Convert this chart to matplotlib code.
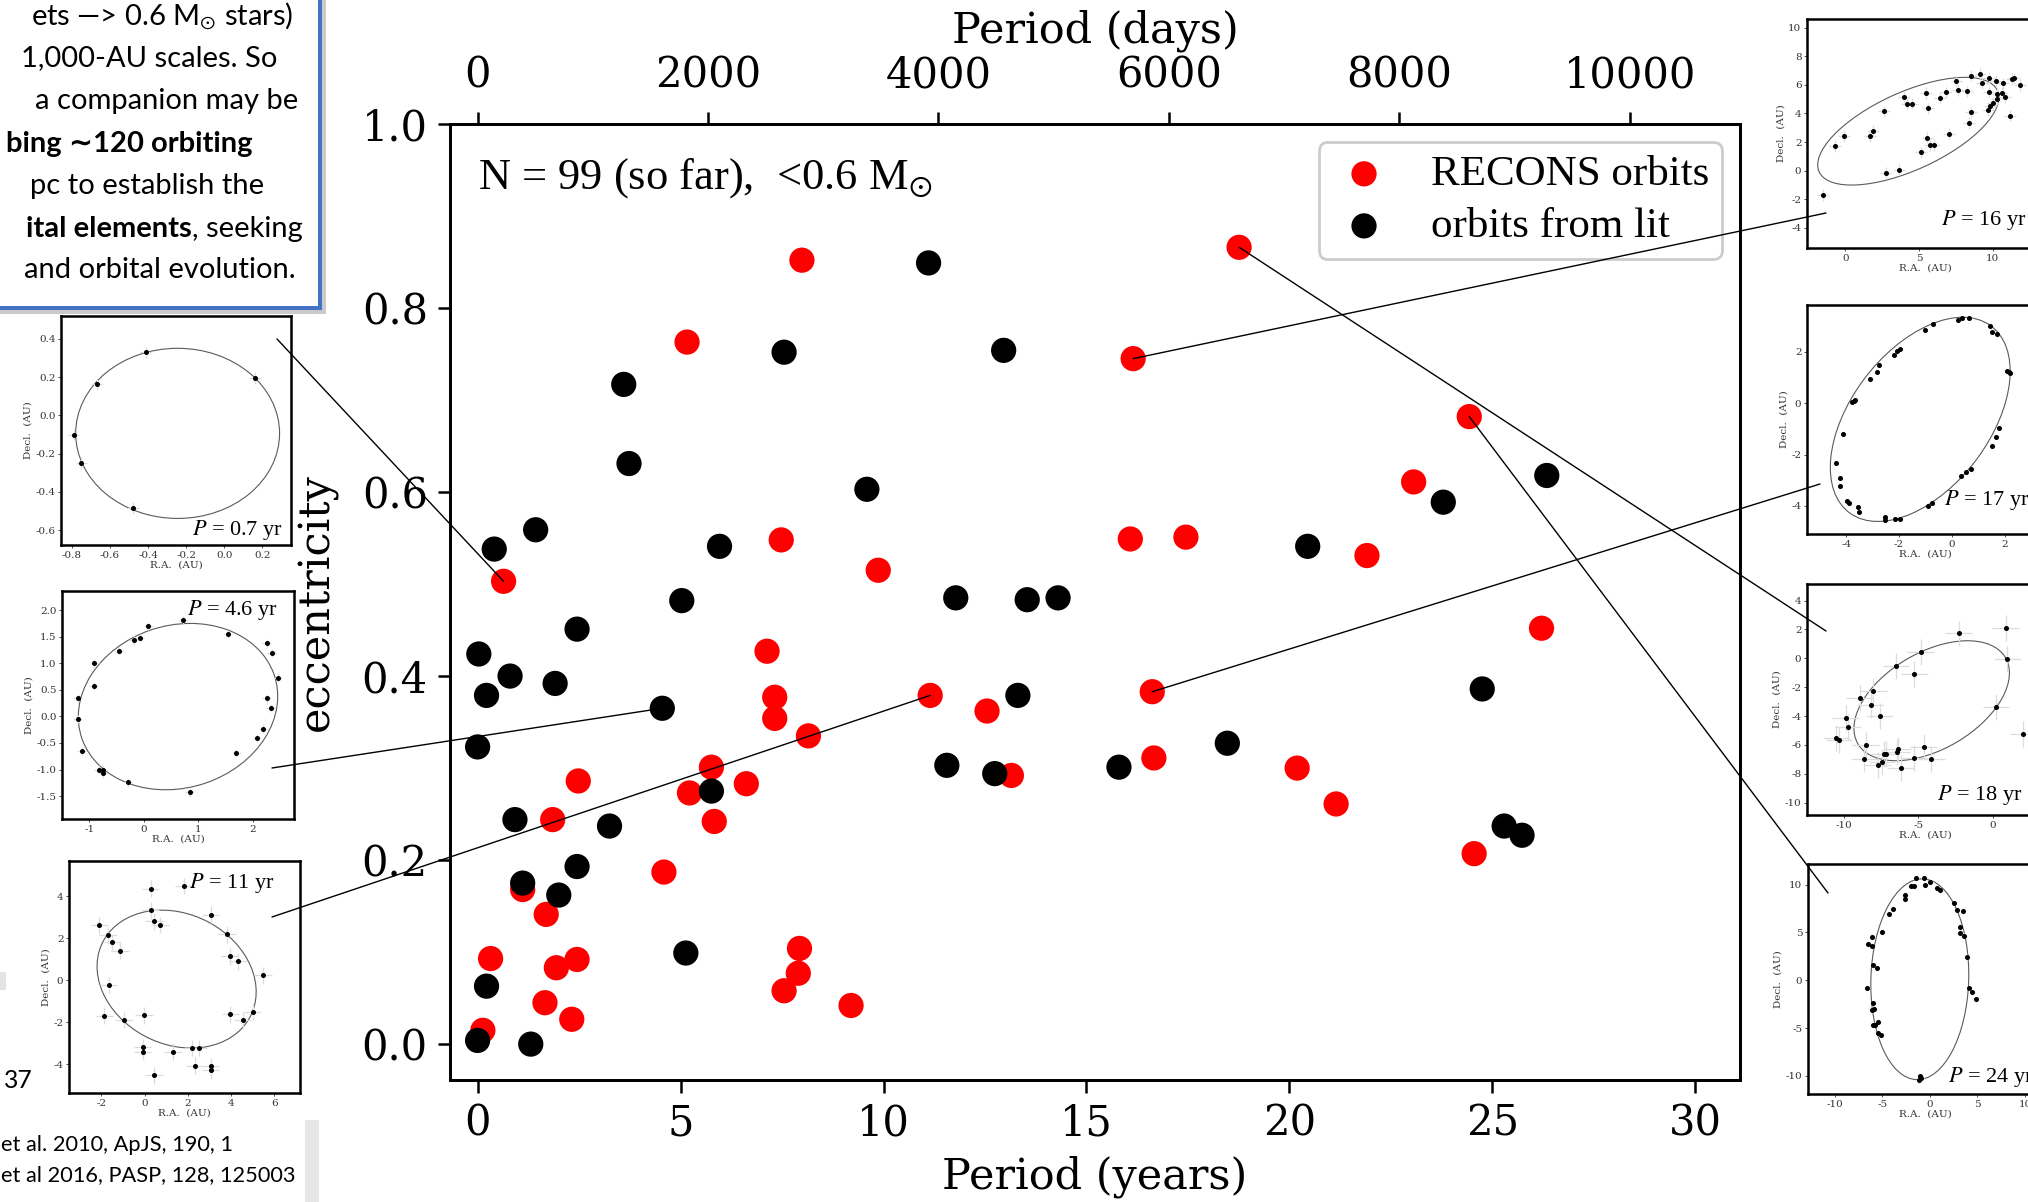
import matplotlib
matplotlib.use("Agg")
import matplotlib.pyplot as plt
from matplotlib.patches import Ellipse, Rectangle, ConnectionPatch
from matplotlib.ticker import FormatStrFormatter

plt.rcParams['font.family'] = ['DejaVu Serif']
plt.rcParams['mathtext.fontset'] = 'stix'

W, H, DPI = 2028, 1202, 100

# ---------------- main chart data ----------------
recons_period = [0.64, 7.99, 5.16, 18.76, 16.15, 24.43, 7.48, 9.87, 16.08, 17.45,
                 23.06, 21.91, 26.21, 7.13, 7.32, 7.32, 11.15, 12.55, 8.15, 16.62,
                 5.76, 5.22, 6.62, 5.83, 13.15, 16.66, 20.19, 21.15, 2.48, 1.85,
                 1.11, 1.69, 4.59, 24.55, 0.32, 1.94, 2.45, 7.93, 7.90, 7.55,
                 9.20, 1.66, 2.32, 0.13]
recons_ecc = [0.503, 0.852, 0.763, 0.866, 0.745, 0.682, 0.548, 0.515, 0.549, 0.551,
              0.611, 0.531, 0.452, 0.427, 0.377, 0.354, 0.379, 0.362, 0.335, 0.383,
              0.301, 0.273, 0.283, 0.242, 0.292, 0.311, 0.300, 0.261, 0.286, 0.244,
              0.168, 0.141, 0.187, 0.207, 0.093, 0.083, 0.092, 0.104, 0.077, 0.058,
              0.042, 0.045, 0.027, 0.015]
lit_period = [11.11, 12.96, 7.55, 3.60, 3.73, 9.59, 26.34, 23.79, 0.41, 1.43,
              5.96, 20.45, 5.03, 11.78, 13.54, 14.30, 2.45, 0.03, 0.80, 1.91,
              0.22, 4.55, 13.31, 24.75, 0.00, 11.56, 12.74, 15.80, 18.47, 5.76,
              0.92, 3.25, 25.29, 25.73, 1.11, 2.45, 2.00, 5.13, 0.22, 0.00, 1.31]
lit_ecc = [0.849, 0.754, 0.752, 0.717, 0.631, 0.603, 0.618, 0.589, 0.538, 0.559,
           0.541, 0.541, 0.482, 0.485, 0.483, 0.485, 0.451, 0.424, 0.400, 0.392,
           0.379, 0.365, 0.379, 0.386, 0.323, 0.303, 0.294, 0.301, 0.327, 0.275,
           0.244, 0.237, 0.237, 0.227, 0.175, 0.193, 0.162, 0.099, 0.063, 0.004, 0.000]

year_ticks = [0, 5, 10, 15, 20, 25, 30]
day_ticks = [0, 2000, 4000, 6000, 8000, 10000]
ecc_ticks = [0.0, 0.2, 0.4, 0.6, 0.8, 1.0]

# ---------------- inset orbit data ----------------
A_ra = [-0.41, -0.67, -0.79, -0.75, -0.48, 0.16]
A_dec = [0.33, 0.165, -0.10, -0.25, -0.485, 0.195]
B_ra = [-1.21, -1.21, -1.14, -0.91, -0.92, -0.83, -0.75, -0.75, -0.45, -0.19, -0.08, 0.08,
        0.72, -0.29, 0.84, 1.54, 1.69, 2.07, 2.19, 2.25, 2.32, 2.25, 2.34, 2.45]
B_dec = [0.34, -0.05, -0.65, 1.00, 0.57, -1.00, -1.00, -1.07, 1.23, 1.43, 1.48, 1.70,
         1.81, -1.24, -1.43, 1.55, -0.69, -0.41, -0.23, 0.34, 0.16, 1.38, 1.19, 0.73]
C_ra = [-2.10, -1.69, -1.49, -1.14, -1.66, -1.86, -0.95, -0.03, -0.08, -0.08, 0.44, 1.32,
        2.21, 2.50, 2.32, 3.06, 3.06, 0.28, 0.28, 0.44, 0.72, 1.81, 3.07, 3.82, 3.94,
        4.33, 5.49, 3.97, 4.55, 5.00]
C_dec = [2.60, 2.14, 1.81, 1.38, -0.24, -1.70, -1.90, -1.68, -3.20, -3.43, -4.54, -3.41,
         -3.24, -3.24, -4.08, -4.10, -4.30, 4.35, 3.33, 2.79, 2.62, 4.48, 3.11, 2.17, 1.14,
         0.89, 0.22, -1.63, -1.92, -1.51]
D_ra = [-1.54, -0.71, -0.09, 1.66, 1.86, 2.59, 2.72, 3.63, 3.99, 4.17, 4.49, 5.47, 5.58,
        5.56, 5.72, 5.99, 5.10, 6.38, 6.85, 7.03, 7.53, 7.65, 8.23, 8.53, 9.16, 9.25, 8.39,
        8.53, 9.71, 9.73, 10.23, 10.02, 9.80, 9.69, 10.25, 10.25, 10.59, 10.70, 10.81,
        11.15, 11.27, 11.43, 11.84]
D_dec = [-1.69, 1.72, 2.44, 2.41, 2.78, 4.15, -0.13, 0.07, 5.14, 4.69, 4.69, 5.42, 4.35,
         2.31, 1.79, 1.81, 1.29, 5.10, 5.47, 2.59, 6.27, 5.65, 5.55, 6.64, 6.76, 6.14, 3.33,
         4.08, 6.49, 5.52, 6.27, 4.74, 4.49, 4.24, 4.99, 5.37, 5.45, 6.11, 5.12, 3.84, 6.42,
         6.45, 6.00]
E_ra = [-4.38, -4.22, -4.22, -3.98, -3.88, -3.50, -3.54, -2.55, -2.52, -2.17, -1.95, -0.90,
        -0.75, 0.34, 0.53, 0.71, 1.53, 1.66, 1.79, 2.08, 2.16, 2.21, 1.70, 1.53, 1.45, 0.66,
        0.37, 0.24, -0.71, -1.02, -1.95, -2.08, -2.20, -2.74, -2.84, -3.08, -3.79, -3.71,
        -3.65, -4.13]
E_dec = [-2.34, -2.92, -3.22, -3.82, -3.89, -4.24, -4.03, -4.45, -4.55, -4.52, -4.52, -4.00,
         -3.90, -2.82, -2.68, -2.58, -1.65, -1.30, -0.96, 1.25, 1.20, 1.17, 2.68, 2.78, 3.03,
         3.32, 3.33, 3.23, 3.09, 2.84, 2.10, 2.03, 1.88, 1.49, 1.22, 0.94, 0.04, 0.08, 0.11,
         -1.21]
F_ra = [-2.28, 0.88, 1.00, -4.85, -6.51, -5.26, -8.02, -8.94, -8.20, -7.59, -9.89, -9.73,
        -10.52, -10.34, -8.54, -8.63, -7.74, -7.45, -7.30, -7.18, -6.46, -6.39, -6.19, -5.31,
        -4.63, -4.12, 0.23, 2.05]
F_dec = [1.72, 2.10, -0.05, 0.43, -0.52, -1.06, -2.24, -2.73, -3.24, -3.99, -4.17, -4.77,
         -5.52, -5.63, -6.02, -7.01, -7.41, -7.21, -6.60, -6.60, -6.49, -6.32, -7.59, -6.92,
         -6.15, -6.95, -3.36, -5.25]
G_ra = [-1.42, -0.60, -2.00, -1.67, -0.49, 0.03, 0.76, 1.07, -2.60, -2.56, -3.84, -4.26,
        -4.99, 2.57, 2.82, 3.44, 3.16, 3.19, 3.60, 3.92, 4.17, 4.48, 4.83, -6.46, -6.10,
        -6.08, -6.00, -5.60, -6.56, -5.94, -6.10, -5.90, -5.94, -5.76, -5.42, -5.42, -5.17,
        -1.04, -0.90, -1.10]
G_dec = [10.7, 10.7, 9.85, 9.85, 9.94, 10.3, 9.65, 9.40, 8.94, 8.51, 7.48, 6.88, 5.07,
         8.08, 7.31, 7.22, 5.54, 4.94, 4.64, 2.45, -0.77, -1.28, -2.01, 3.78, 4.55, 3.61,
         1.55, 1.29, -0.77, -2.37, -3.10, -3.00, -4.73, -4.64, -4.39, -5.55, -5.77, -10.07,
         -10.2, -10.4]

# orbit fits: (center x, center y, full width, full height, angle)
A_fit = (-0.245, -0.094, 1.07, 0.89, 0)
B_fit = (0.625, 0.185, 3.72, 3.05, 19.3)
C_fit = (1.485, 0.045, 7.70, 6.18, -29.0)
D_fit = (4.26, 2.76, 13.36, 5.40, 25.4)
E_fit = (-1.20, -0.63, 9.04, 5.28, 54.3)
F_fit = (-4.10, -2.94, 11.6, 6.66, 31.6)
G_fit = (-1.05, 0.10, 21.0, 10.28, 88.2)

# ---------------- figure ----------------
fig = plt.figure(figsize=(W / DPI, H / DPI), dpi=DPI)
fig.patch.set_facecolor('white')


def fx(px):
    return px / W


def fy(py):
    return 1 - py / H


def px_axes(l, t, r, b):
    return fig.add_axes([l / W, 1 - b / H, (r - l) / W, (b - t) / H])


# ---- main axes ----
ax = px_axes(450, 124, 1740, 1080)
ax.scatter(recons_period, recons_ecc, s=330, color='#ff0000', edgecolors='none',
           label='RECONS orbits', zorder=3)
ax.scatter(lit_period, lit_ecc, s=330, color='black', edgecolors='none',
           label='orbits from lit', zorder=4)
ax.set_xlim(-0.68, 31.1)
ax.set_ylim(-0.039, 1.0)
ax.set_xticks(year_ticks)
ax.set_yticks(ecc_ticks)
ax.yaxis.set_major_formatter(FormatStrFormatter('%.1f'))
ax.tick_params(labelsize=30, length=9, width=1.8, pad=7, direction='out')
for sp in ax.spines.values():
    sp.set_linewidth(2.0)

ax.set_xlabel('Period (years)', fontsize=31)
ax.xaxis.set_label_coords(0.5, (1080 - 1177) / 956)
ax.xaxis.label.set_va('center')
ax.set_ylabel('eccentricity', fontsize=31)
ax.yaxis.set_label_coords((317 - 450) / 1290, 0.5)
ax.yaxis.label.set_va('center')

ax2 = ax.twiny()
ax2.set_xlim(-240, 10957)
ax2.set_xticks(day_ticks)
ax2.tick_params(labelsize=30, length=9, width=1.8, pad=11, direction='out')
for sp in ax2.spines.values():
    sp.set_linewidth(2.0)
ax2.set_xlabel('Period (days)', fontsize=31)
ax2.xaxis.set_label_coords(0.5, (1080 - 31) / 956)
ax2.xaxis.label.set_va('center')

leg = ax.legend(loc='upper right', prop={'family': 'Liberation Serif', 'size': 31},
                handlelength=1.5, handletextpad=0.8, borderpad=0.3, labelspacing=0.3,
                borderaxespad=0.42, fancybox=True, framealpha=1, edgecolor='#cccccc')
leg.get_frame().set_linewidth(2.0)

ax.text((478 - 450) / 1290, (1080 - 178) / 956, r'N = 99 (so far),  <0.6 M$_{\odot}$',
        transform=ax.transAxes, family='Liberation Serif', fontsize=32,
        ha='left', va='center')


# ---- inset orbit panels ----
def inset(box, xlim, ylim, xticks, yticks, ra, dec, err, fit, xfmt, yfmt):
    a = px_axes(*box)
    a.errorbar(ra, dec, xerr=err, yerr=err, fmt='o', ms=2.6, color='black',
               ecolor='#dcdcdc', elinewidth=0.9, capsize=0, zorder=3)
    cx, cy, w, h, ang = fit
    a.add_patch(Ellipse((cx, cy), w, h, angle=ang, fill=False, ec='#5a5a5a', lw=0.8, zorder=2))
    a.set_xlim(*xlim)
    a.set_ylim(*ylim)
    a.set_xticks(xticks)
    a.set_yticks(yticks)
    a.xaxis.set_major_formatter(FormatStrFormatter(xfmt))
    a.yaxis.set_major_formatter(FormatStrFormatter(yfmt))
    a.tick_params(labelsize=7.5, length=2, width=0.6, pad=2, colors='#333333')
    for sp in a.spines.values():
        sp.set_linewidth(1.8)
        sp.set_color('black')
    a.set_xlabel('R.A.  (AU)', fontsize=7.5, labelpad=1, color='#333333')
    a.set_ylabel('Decl.  (AU)', fontsize=7.5, labelpad=2, color='#333333')
    return a


inset((61, 316, 291, 545), (-0.857, 0.35), (-0.678, 0.52),
      [-0.8, -0.6, -0.4, -0.2, 0.0, 0.2], [-0.6, -0.4, -0.2, 0.0, 0.2, 0.4],
      A_ra, A_dec, 0.03, A_fit, '%.1f', '%.1f')
inset((62, 591, 294, 819), (-1.50, 2.75), (-1.93, 2.36),
      [-1, 0, 1, 2], [-1.5, -1.0, -0.5, 0.0, 0.5, 1.0, 1.5, 2.0],
      B_ra, B_dec, 0.08, B_fit, '%d', '%.1f')
inset((69, 861, 300, 1093), (-3.5, 7.2), (-5.38, 5.67),
      [-2, 0, 2, 4, 6], [-4, -2, 0, 2, 4],
      C_ra, C_dec, 0.4, C_fit, '%d', '%d')
inset((1807, 19, 2043, 248), (-2.61, 13.4), (-5.4, 10.6),
      [0, 5, 10], [-4, -2, 0, 2, 4, 6, 8, 10],
      D_ra, D_dec, 0.4, D_fit, '%d', '%d')
inset((1807, 305, 2043, 534), (-5.48, 3.44), (-5.1, 3.83),
      [-4, -2, 0, 2], [-4, -2, 0, 2],
      E_ra, E_dec, 0.08, E_fit, '%d', '%d')
inset((1807, 584, 2043, 815), (-12.5, 3.4), (-10.86, 5.15),
      [-10, -5, 0], [-10, -8, -6, -4, -2, 0, 2, 4],
      F_ra, F_dec, 0.9, F_fit, '%d', '%d')
inset((1808, 864, 2043, 1094), (-12.8, 11.9), (-11.9, 12.15),
      [-10, -5, 0, 5, 10], [-10, -5, 0, 5, 10],
      G_ra, G_dec, 0.3, G_fit, '%d', '%d')

p_labels = [(r'$P$ = 0.7 yr', 283, 530, 'right'),
            (r'$P$ = 4.6 yr', 278, 610, 'right'),
            (r'$P$ = 11 yr', 274, 883, 'right'),
            (r'$P$ = 16 yr', 1941, 220, 'left'),
            (r'$P$ = 17 yr', 1944, 500, 'left'),
            (r'$P$ = 18 yr', 1937, 795, 'left'),
            (r'$P$ = 24 yr', 1948, 1077, 'left')]
for txt, x, y, ha in p_labels:
    fig.text(fx(x), fy(y), txt, family='Liberation Serif', fontsize=16, ha=ha, va='center',
             zorder=20)

# ---- connector lines from highlighted systems to their orbit panels ----
links = [((recons_period[0], recons_ecc[0]), (277, 339)),
         ((lit_period[21], lit_ecc[21]), (272, 768)),
         ((recons_period[16], recons_ecc[16]), (272, 917)),
         ((recons_period[4], recons_ecc[4]), (1826, 213)),
         ((recons_period[19], recons_ecc[19]), (1820, 484)),
         ((recons_period[3], recons_ecc[3]), (1826, 631)),
         ((recons_period[5], recons_ecc[5]), (1828, 893))]
for (xd, yd), (px, py) in links:
    cp = ConnectionPatch(xyA=(xd, yd), coordsA=ax.transData,
                         xyB=(fx(px), fy(py)), coordsB=fig.transFigure,
                         color='black', lw=1.0, zorder=15)
    fig.add_artist(cp)

# ---- slide text box (top-left) ----
shadow = Rectangle((fx(-10), fy(314)), fx(336), 324 / H, transform=fig.transFigure,
                   fc='#a8a8a8', ec='none', alpha=0.6, zorder=1)
fig.add_artist(shadow)
box = Rectangle((fx(-10), fy(308)), fx(330), 318 / H, transform=fig.transFigure,
                fc='white', ec='#4472C4', lw=2.9, zorder=2)
fig.add_artist(box)

sans = ['Lato', 'DejaVu Sans']
renderer = fig.canvas.get_renderer()
probe = fig.text(0, 0, '1,000-AU scales. So', family=sans, fontsize=20)
box_fs = 20 * 256 / probe.get_window_extent(renderer=renderer).width
probe.remove()
probe = fig.text(0, 0, 'et al. 2010, ApJS, 190, 1', family=sans, fontsize=20)
cite_fs = 20 * 232 / probe.get_window_extent(renderer=renderer).width
probe.remove()

box_lines = [('ets \u2014> 0.6 M$_{\\odot}$ stars)', 293, 16, 'normal'),
             ('1,000-AU scales. So', 277, 58, 'normal'),
             ('a companion may be', 298, 101, 'normal'),
             ('bing \u223c120 orbiting', 253, 144, 'bold'),
             ('pc to establish the', 264, 186, 'normal'),
             (', seeking', 303, 229, 'normal'),
             ('and orbital evolution.', 296, 270, 'normal')]
for txt, xr, yc, wt in box_lines:
    t = fig.text(fx(xr), fy(yc), txt, family=sans, fontsize=box_fs, fontweight=wt,
                 ha='right', va='center', zorder=5)
    if txt == ', seeking':
        wpx = t.get_window_extent(renderer=renderer).width
        fig.text(fx(xr - wpx), fy(yc), 'ital elements', family=sans, fontsize=box_fs,
                 fontweight='bold', ha='right', va='center', zorder=5)

# ---- slide leftovers (page number, references) ----
fig.text(fx(4), fy(1080), '37', family=sans, fontsize=box_fs * 0.85, ha='left', va='center')
fig.text(fx(1), fy(1145), 'et al. 2010, ApJS, 190, 1', family=sans,
         fontsize=cite_fs, ha='left', va='center')
fig.text(fx(1), fy(1175), 'et al 2016, PASP, 128, 125003', family=sans,
         fontsize=cite_fs, ha='left', va='center')
fig.add_artist(Rectangle((fx(305), fy(1202)), fx(14), 82 / H, transform=fig.transFigure,
                         fc='#e6e6e6', ec='none', zorder=1))
fig.add_artist(Rectangle((fx(0), fy(990)), fx(6), 18 / H, transform=fig.transFigure,
                         fc='#e4e4e4', ec='none', zorder=1))

fig.savefig('out.png', dpi=DPI, facecolor='white')
